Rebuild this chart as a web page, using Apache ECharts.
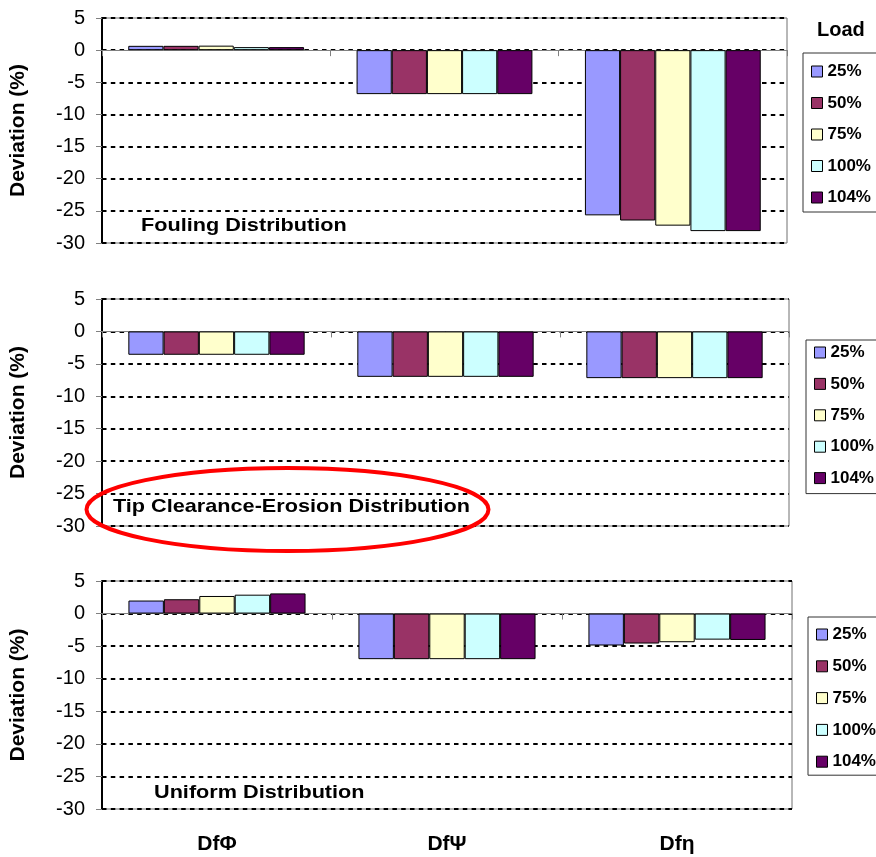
<!DOCTYPE html>
<html>
<head>
<meta charset="utf-8">
<script src="https://cdn.jsdelivr.net/npm/echarts@6/dist/echarts.min.js"></script>
<style>html,body{margin:0;padding:0;background:#fff}#c{width:876px;height:857px}</style>
</head>
<body>
<div id="c"></div>
<script>
var categories = ['DfΦ', 'DfΨ', 'Dfη'];
var loads = ['25%', '50%', '75%', '100%', '104%'];
var colors = ['#9999FF', '#993366', '#FFFFCC', '#CCFFFF', '#660066'];
var yTicks = [-30, -25, -20, -15, -10, -5, 0, 5];

// values per load, in category order [DfΦ, DfΨ, Dfη]
var fouling25 = [0.67, -6.84, -25.7];
var fouling50 = [0.67, -6.84, -26.5];
var fouling75 = [0.7, -6.84, -27.3];
var fouling100 = [0.47, -6.84, -28.15];
var fouling104 = [0.47, -6.84, -28.15];

var tip25 = [-3.6, -7.0, -7.2];
var tip50 = [-3.6, -7.0, -7.2];
var tip75 = [-3.6, -7.0, -7.2];
var tip100 = [-3.6, -7.0, -7.2];
var tip104 = [-3.6, -7.0, -7.2];

var uniform25 = [2.0, -7.0, -4.9];
var uniform50 = [2.2, -7.0, -4.6];
var uniform75 = [2.7, -7.0, -4.4];
var uniform100 = [2.9, -7.0, -4.0];
var uniform104 = [3.1, -7.0, -4.05];

var panelNames = ['Fouling Distribution', 'Tip Clearance-Erosion Distribution', 'Uniform Distribution'];
var panelData = [
  [fouling25, fouling50, fouling75, fouling100, fouling104],
  [tip25, tip50, tip75, tip100, tip104],
  [uniform25, uniform50, uniform75, uniform100, uniform104]
];

var FONT = '"Liberation Sans", Arial, sans-serif';

var gridBase = {show: true, borderColor: '#707070', borderWidth: 1, backgroundColor: 'transparent'};
var grids = [
  Object.assign({left: 97, top: 18, width: 690, height: 225}, gridBase),
  Object.assign({left: 97, top: 299, width: 692, height: 227}, gridBase),
  Object.assign({left: 98, top: 581, width: 694, height: 228}, gridBase)
];

var xAxes = [], yAxes = [], series = [];
for (var p = 0; p < 3; p++) {
  xAxes.push({
    type: 'category', gridIndex: p, data: categories, position: 'bottom',
    axisLine: {onZero: true, lineStyle: {color: '#808080', width: 1}},
    axisTick: {show: true, length: 6, lineStyle: {color: '#808080'}},
    axisLabel: {show: false}, splitLine: {show: false}
  });
}
xAxes.push({
  type: 'category', gridIndex: 2, data: categories, position: 'bottom',
  axisLine: {show: false, onZero: false}, axisTick: {show: false},
  axisLabel: {show: true, margin: 25, color: '#000', fontFamily: FONT, fontWeight: 'bold', fontSize: 21},
  splitLine: {show: false}
});
for (var p = 0; p < 3; p++) {
  yAxes.push({
    type: 'value', gridIndex: p, position: 'left', min: yTicks[0], max: yTicks[yTicks.length - 1], interval: 5,
    name: 'Deviation (%)', nameLocation: 'middle', nameGap: 73, nameRotate: 90,
    nameTextStyle: {color: '#000', fontFamily: FONT, fontWeight: 'bold', fontSize: 21},
    axisLine: {show: true, onZero: false, lineStyle: {color: '#000', width: 2}},
    axisTick: {show: true, length: 6, lineStyle: {color: '#808080'}},
    axisLabel: {margin: 17, color: '#000', fontFamily: FONT, fontSize: 20},
    splitLine: {show: true, lineStyle: {color: '#000', width: 2, type: [4.5, 4.3]}}
  });
}
for (var p = 0; p < 3; p++) {
  for (var i = 0; i < loads.length; i++) {
    series.push({
      type: 'bar', name: loads[i], xAxisIndex: p, yAxisIndex: p,
      data: panelData[p][i], barGap: '0%', barCategoryGap: '23%',
      itemStyle: {color: colors[i], borderColor: '#000', borderWidth: 1},
      emphasis: {disabled: true}
    });
  }
}

function mkLegend(left, top, pad, gap) {
  return {
    orient: 'vertical', left: left, top: top, data: loads, icon: 'rect',
    itemWidth: 11, itemHeight: 11, itemGap: gap,
    padding: pad, borderColor: '#333', borderWidth: 1, selectedMode: false,
    itemStyle: {borderColor: '#000', borderWidth: 1},
    textStyle: {color: '#000', fontFamily: FONT, fontWeight: 'bold', fontSize: 17, lineHeight: 16}
  };
}

var graphics = [
  {type: 'text', x: 817, y: 30, z: 50, style: {text: 'Load', fill: '#000', font: 'bold 20px ' + FONT, textAlign: 'left', textVerticalAlign: 'middle'}},
  {type: 'text', x: 141, y: 226, z: 50, scaleX: 1.14, style: {text: panelNames[0], fill: '#000', font: 'bold 19px ' + FONT, textAlign: 'left', textVerticalAlign: 'middle'}},
  {type: 'text', x: 113, y: 507, z: 50, scaleX: 1.14, style: {text: panelNames[1], fill: '#000', font: 'bold 19px ' + FONT, textAlign: 'left', textVerticalAlign: 'middle'}},
  {type: 'text', x: 154, y: 793, z: 50, scaleX: 1.14, style: {text: panelNames[2], fill: '#000', font: 'bold 19px ' + FONT, textAlign: 'left', textVerticalAlign: 'middle'}},
  {type: 'ellipse', z: 100, shape: {cx: 287.5, cy: 509.5, rx: 201, ry: 41.5}, style: {fill: 'none', stroke: '#FF0000', lineWidth: 4}}
];

var chart = echarts.init(document.getElementById('c'), null, {renderer: 'canvas'});
chart.setOption({
  animation: false,
  backgroundColor: '#fff',
  grid: grids,
  xAxis: xAxes,
  yAxis: yAxes,
  legend: [
    mkLegend(803, 53, [10, 10, 6, 8], 14.5),
    mkLegend(806, 340, [4, 10, 7, 8], 14.4),
    mkLegend(808, 617, [9, 10, 5, 8], 14.8)
  ],
  graphic: graphics,
  series: series
});
</script>
</body>
</html>
